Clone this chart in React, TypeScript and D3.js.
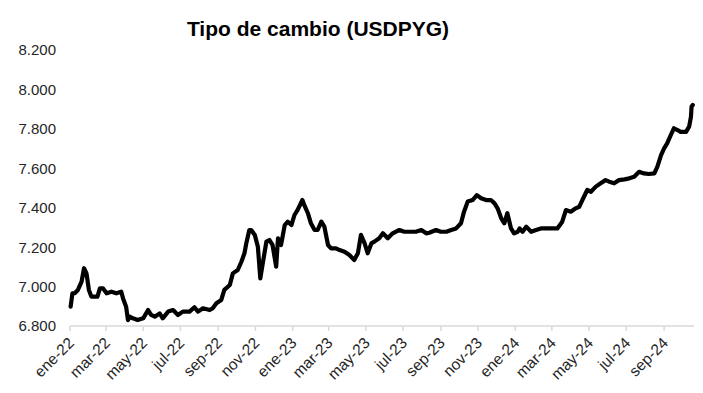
import React from 'react';
import * as d3 from 'd3';

// USDPYG, lecturas aproximadas del gráfico
const dates: string[] = [
  '2022-01-02', '2022-01-05', '2022-01-09', '2022-01-14', '2022-01-20', '2022-01-24', '2022-01-28',
  '2022-02-01', '2022-02-05', '2022-02-10', '2022-02-15', '2022-02-19', '2022-02-24', '2022-03-02',
  '2022-03-10', '2022-03-18', '2022-03-26', '2022-03-29', '2022-04-03', '2022-04-06', '2022-04-09',
  '2022-04-14', '2022-04-22', '2022-05-01', '2022-05-09', '2022-05-14', '2022-05-20', '2022-05-28',
  '2022-06-02', '2022-06-11', '2022-06-19', '2022-06-27', '2022-07-05', '2022-07-16', '2022-07-24',
  '2022-07-30', '2022-08-07', '2022-08-18', '2022-08-23', '2022-08-29', '2022-09-06', '2022-09-11',
  '2022-09-20', '2022-09-25', '2022-10-03', '2022-10-09', '2022-10-14', '2022-10-17', '2022-10-22',
  '2022-10-25', '2022-10-31', '2022-11-05', '2022-11-09', '2022-11-13', '2022-11-19', '2022-11-24',
  '2022-11-29', '2022-12-05', '2022-12-08', '2022-12-13', '2022-12-19', '2022-12-24', '2022-12-30',
  '2023-01-04', '2023-01-09', '2023-01-17', '2023-01-20', '2023-01-26', '2023-01-31', '2023-02-06',
  '2023-02-11', '2023-02-17', '2023-02-22', '2023-02-28', '2023-03-05', '2023-03-13', '2023-03-19',
  '2023-03-27', '2023-04-04', '2023-04-12', '2023-04-18', '2023-04-23', '2023-04-29', '2023-05-04',
  '2023-05-10', '2023-05-15', '2023-05-23', '2023-05-29', '2023-06-06', '2023-06-14', '2023-06-25',
  '2023-07-03', '2023-07-11', '2023-07-22', '2023-07-31', '2023-08-08', '2023-08-13', '2023-08-24',
  '2023-09-01', '2023-09-10', '2023-09-18', '2023-09-26', '2023-10-04', '2023-10-09', '2023-10-15',
  '2023-10-23', '2023-10-30', '2023-11-06', '2023-11-14', '2023-11-22', '2023-11-28', '2023-12-03',
  '2023-12-09', '2023-12-14', '2023-12-19', '2023-12-25', '2023-12-30', '2024-01-05', '2024-01-08',
  '2024-01-13', '2024-01-19', '2024-01-27', '2024-02-04', '2024-02-12', '2024-02-20', '2024-02-28',
  '2024-03-10', '2024-03-18', '2024-03-24', '2024-04-01', '2024-04-09', '2024-04-15', '2024-04-20',
  '2024-04-28', '2024-05-04', '2024-05-12', '2024-05-20', '2024-05-28', '2024-06-03', '2024-06-11',
  '2024-06-19', '2024-06-28', '2024-07-06', '2024-07-14', '2024-07-22', '2024-07-30', '2024-08-07',
  '2024-08-16', '2024-08-21', '2024-08-27', '2024-09-01', '2024-09-06', '2024-09-12', '2024-09-17',
  '2024-09-23', '2024-09-28', '2024-10-07', '2024-10-12', '2024-10-15', '2024-10-16', '2024-10-18',
];

const values: number[] = [
  6898, 6966, 6967, 6983, 7025, 7093, 7067,
  6983, 6949, 6949, 6949, 6991, 6991, 6966,
  6974, 6966, 6974, 6940, 6898, 6830, 6847,
  6839, 6830, 6839, 6881, 6856, 6847, 6864,
  6839, 6873, 6881, 6856, 6873, 6873, 6895,
  6873, 6890, 6881, 6890, 6915, 6932, 6983,
  7008, 7067, 7084, 7126, 7169, 7219, 7287,
  7287, 7262, 7202, 7042, 7118, 7228, 7236,
  7211, 7101, 7245, 7211, 7312, 7329, 7312,
  7363, 7388, 7439, 7414, 7372, 7321, 7287,
  7287, 7329, 7304, 7211, 7194, 7194, 7185,
  7177, 7160, 7135, 7169, 7262, 7219, 7169,
  7219, 7228, 7245, 7270, 7245, 7270, 7287,
  7278, 7278, 7278, 7287, 7270, 7273, 7287,
  7278, 7278, 7287, 7295, 7321, 7380, 7431,
  7439, 7464, 7448, 7439, 7439, 7422, 7397,
  7346, 7321, 7372, 7295, 7270, 7278, 7295,
  7278, 7304, 7278, 7287, 7295, 7295, 7295,
  7295, 7329, 7388, 7380, 7397, 7405, 7439,
  7490, 7481, 7507, 7524, 7540, 7532, 7524,
  7540, 7544, 7549, 7557, 7582, 7574, 7571,
  7574, 7608, 7667, 7701, 7726, 7769, 7803,
  7794, 7785, 7785, 7811, 7861, 7912, 7921,
];

const yTicks = [6800, 7000, 7200, 7400, 7600, 7800, 8000, 8200];
const monthNames = ['ene', 'feb', 'mar', 'abr', 'may', 'jun', 'jul', 'ago', 'sep', 'oct', 'nov', 'dic'];
const title = 'Tipo de cambio (USDPYG)';

const width = 703;
const height = 393;
const font = 'Liberation Sans, Arial, sans-serif';

const parse = d3.timeParse('%Y-%m-%d');
const points = dates.map((d, i) => ({ date: parse(d) as Date, value: values[i] }));

const esLocale = d3.formatLocale({ decimal: ',', thousands: '.', grouping: [3], currency: ['', ''] });
const fmt = esLocale.format(',d');

export default function App() {
  const x = d3.scaleTime()
    .domain([new Date(2022, 0, 1), new Date(2024, 9, 20)])
    .range([70, 694]);
  const y = d3.scaleLinear().domain([6800, 8200]).range([326, 50]);

  const line = d3.line<{ date: Date; value: number }>()
    .x(d => x(d.date))
    .y(d => y(d.value));

  const xTicks = d3.timeMonth.every(2)!.range(new Date(2022, 0, 1), new Date(2024, 9, 20));
  const axisY = y(6800);

  return (
    <div style={{ position: 'absolute', left: 0, top: 0 }}>
      <svg width={width} height={height} style={{ display: 'block', background: '#fff' }}>
        <text x={318} y={36} textAnchor="middle" fontFamily={font} fontWeight="bold" fontSize={21} fill="#000">
          {title}
        </text>

        {yTicks.map(t => (
          <text key={t} x={56} y={y(t)} dy="0.36em" textAnchor="end" fontFamily={font} fontSize={15} fill="#262626">
            {fmt(t)}
          </text>
        ))}

        <line x1={70} x2={694} y1={axisY} y2={axisY} stroke="#d9d9d9" strokeWidth={1.5} />
        {xTicks.map(t => (
          <g key={t.toISOString()} transform={`translate(${x(t)},${axisY})`}>
            <line y1={0} y2={5} stroke="#d9d9d9" strokeWidth={1.5} />
            <text
              transform="translate(5,18) rotate(-45)"
              textAnchor="end"
              fontFamily={font}
              fontSize={15.5}
              fill="#262626"
            >
              {`${monthNames[t.getMonth()]}-${String(t.getFullYear()).slice(2)}`}
            </text>
          </g>
        ))}

        <path d={line(points) || ''} fill="none" stroke="#000" strokeWidth={4.2} strokeLinejoin="round" strokeLinecap="round" />
      </svg>
    </div>
  );
}
